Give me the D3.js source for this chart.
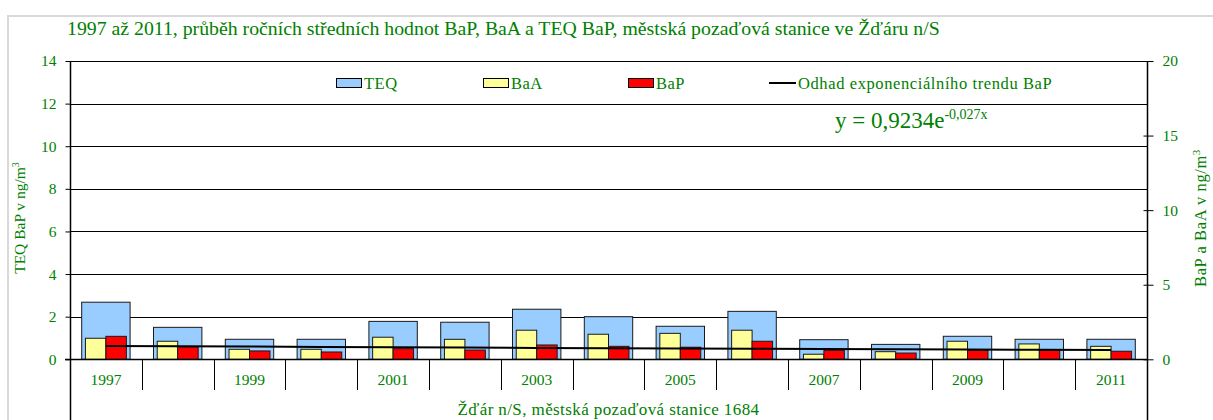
<!DOCTYPE html>
<html>
<head>
<meta charset="utf-8">
<script src="https://cdn.jsdelivr.net/npm/d3@7/dist/d3.min.js"></script>
<style>
  html, body { margin: 0; padding: 0; background: #fff; }
  svg { display: block; }
  text { font-family: "Liberation Serif", "DejaVu Serif", serif; fill: #008000; }
</style>
</head>
<body>
<svg id="chart" width="1213" height="420"></svg>
<script>
// Years on the category axis (labels shown every other year)
const years = [1997, 1998, 1999, 2000, 2001, 2002, 2003, 2004, 2005, 2006, 2007, 2008, 2009, 2010, 2011];
// Annual means, ng/m3
const teq = [2.68, 1.50, 0.94, 0.94, 1.78, 1.74, 2.35, 2.00, 1.55, 2.25, 0.92, 0.70, 1.08, 0.94, 0.94];
const baa = [1.41, 1.21, 0.67, 0.67, 1.48, 1.34, 1.95, 1.68, 1.74, 1.95, 0.34, 0.51, 1.21, 1.03, 0.87];
const bap = [1.54, 0.83, 0.56, 0.49, 0.71, 0.62, 0.96, 0.87, 0.81, 1.21, 0.60, 0.42, 0.60, 0.60, 0.54];
// Exponential trend of BaP, one value per year
const trend = [0.899, 0.875, 0.852, 0.829, 0.807, 0.786, 0.765, 0.745, 0.725, 0.706, 0.687, 0.669, 0.651, 0.634, 0.617];
const leftTicks = [0, 2, 4, 6, 8, 10, 12, 14];
const rightTicks = [0, 5, 10, 15, 20];

const svg = d3.select("#chart");
const m = { left: 70, right: 1147, top: 61, bottom: 359.3 };

const x = d3.scaleBand().domain(years).range([m.left, m.right]).paddingInner(0).paddingOuter(0);
const yL = d3.scaleLinear().domain([0, 14]).range([m.bottom, m.top]);
const yR = d3.scaleLinear().domain([0, 20]).range([m.bottom, m.top]);
const bw = x.bandwidth();

// Outer chart frame (top and left edges)
svg.append("path")
  .attr("d", `M8,1213 L8,16 L1213,16`)
  .attr("fill", "none").attr("stroke", "#d9d9d9").attr("stroke-width", 2);

// Title
svg.append("text")
  .attr("x", 67).attr("y", 35)
  .attr("font-size", 19.8)
  .text("1997 až 2011, průběh ročních středních hodnot BaP, BaA a TEQ BaP, městská pozaďová stanice ve Žďáru n/S");

// Horizontal gridlines
svg.append("g").selectAll("line").data(leftTicks.filter(d => d > 0)).join("line")
  .attr("x1", m.left).attr("x2", m.right)
  .attr("y1", d => Math.round(yL(d)) + 0.5).attr("y2", d => Math.round(yL(d)) + 0.5)
  .attr("stroke", "#000").attr("stroke-width", 1);

// TEQ bars (left axis)
svg.append("g").selectAll("rect").data(years).join("rect")
  .attr("x", d => x(d) + bw * 0.163)
  .attr("width", bw * 0.674)
  .attr("y", (d, i) => yL(teq[i]))
  .attr("height", (d, i) => m.bottom - yL(teq[i]))
  .attr("fill", "#99ccff").attr("stroke", "#1a1a1a").attr("stroke-width", 1);

// BaA and BaP bars (right axis)
const half = bw * 0.285;
svg.append("g").selectAll("rect").data(years).join("rect")
  .attr("x", d => x(d) + bw / 2 - half)
  .attr("width", half)
  .attr("y", (d, i) => yR(baa[i]))
  .attr("height", (d, i) => m.bottom - yR(baa[i]))
  .attr("fill", "#ffff99").attr("stroke", "#1a1a1a").attr("stroke-width", 1);
svg.append("g").selectAll("rect").data(years).join("rect")
  .attr("x", d => x(d) + bw / 2)
  .attr("width", half)
  .attr("y", (d, i) => yR(bap[i]))
  .attr("height", (d, i) => m.bottom - yR(bap[i]))
  .attr("fill", "#ff0000").attr("stroke", "#1a1a1a").attr("stroke-width", 1);

// Trend line
svg.append("path")
  .datum(trend)
  .attr("d", d3.line().x((d, i) => x(years[i]) + bw / 2).y(d => yR(d)))
  .attr("fill", "none").attr("stroke", "#000").attr("stroke-width", 2);

// Left axis
const gL = svg.append("g").attr("transform", `translate(${m.left + 0.5},0)`)
  .call(d3.axisLeft(yL).tickValues(leftTicks).tickSize(5).tickPadding(9).tickFormat(d3.format("d")));
gL.select(".domain").remove();
gL.selectAll(".tick line").attr("stroke", "#000");
gL.selectAll(".tick text").attr("font-size", 15.5).attr("font-family", "Liberation Serif").attr("fill", "#008000");
svg.append("line").attr("x1", m.left + 0.5).attr("x2", m.left + 0.5).attr("y1", m.top).attr("y2", 420)
  .attr("stroke", "#000").attr("stroke-width", 1.5);

// Right axis
const gR = svg.append("g").attr("transform", `translate(${m.right + 0.5},0)`)
  .call(d3.axisRight(yR).tickValues(rightTicks).tickSize(6).tickPadding(9).tickFormat(d3.format("d")));
gR.select(".domain").remove();
gR.selectAll(".tick line").attr("stroke", "#000").attr("x1", -4);
gR.selectAll(".tick text").attr("font-size", 15.5).attr("font-family", "Liberation Serif").attr("fill", "#008000");
svg.append("line").attr("x1", m.right + 0.5).attr("x2", m.right + 0.5).attr("y1", m.top).attr("y2", 420)
  .attr("stroke", "#000").attr("stroke-width", 1.5);

// Category axis: baseline, dividers, labels
svg.append("line").attr("x1", m.left - 5).attr("x2", m.right).attr("y1", Math.round(m.bottom) + 0.5).attr("y2", Math.round(m.bottom) + 0.5)
  .attr("stroke", "#000").attr("stroke-width", 1.5);
svg.append("g").selectAll("line").data(years.slice(1)).join("line")
  .attr("x1", d => Math.round(x(d)) + 0.5).attr("x2", d => Math.round(x(d)) + 0.5)
  .attr("y1", m.bottom).attr("y2", 390)
  .attr("stroke", "#000").attr("stroke-width", 1);
svg.append("g").selectAll("text").data(years.filter((d, i) => i % 2 === 0)).join("text")
  .attr("x", d => x(d) + bw / 2).attr("y", 385)
  .attr("text-anchor", "middle").attr("font-size", 15.5)
  .text(d => d);

// Axis titles
svg.append("text")
  .attr("x", (m.left + m.right) / 2).attr("y", 415)
  .attr("text-anchor", "middle").attr("font-size", 17).attr("letter-spacing", 0.4)
  .text("Žďár n/S, městská pozaďová stanice 1684");

const titleL = svg.append("text")
  .attr("transform", "translate(25,218) rotate(-90)")
  .attr("text-anchor", "middle").attr("font-size", 15.5);
titleL.append("tspan").text("TEQ BaP v ng/m");
titleL.append("tspan").attr("font-size", 10).attr("dy", -6).text("3");

const titleR = svg.append("text")
  .attr("transform", "translate(1206,218) rotate(-90)")
  .attr("text-anchor", "middle").attr("font-size", 16.5).attr("letter-spacing", 0.6);
titleR.append("tspan").text("BaP a BaA v ng/m");
titleR.append("tspan").attr("font-size", 11).attr("dy", -6).text("3");

// Legend
const legendItems = [
  { name: "TEQ", fill: "#99ccff", x: 336 },
  { name: "BaA", fill: "#ffff99", x: 483 },
  { name: "BaP", fill: "#ff0000", x: 628 }
];
const lg = svg.append("g");
legendItems.forEach(it => {
  lg.append("rect").attr("x", it.x + 0.5).attr("y", 78.5).attr("width", 25).attr("height", 9)
    .attr("fill", it.fill).attr("stroke", "#000").attr("stroke-width", 1);
  lg.append("text").attr("x", it.x + 28).attr("y", 88.5).attr("font-size", 16.5).attr("letter-spacing", 0.5).text(it.name);
});
lg.append("line").attr("x1", 769).attr("x2", 796).attr("y1", 83).attr("y2", 83)
  .attr("stroke", "#000").attr("stroke-width", 2);
lg.append("text").attr("x", 798).attr("y", 88.5).attr("font-size", 16.5).attr("letter-spacing", 0.6)
  .text("Odhad exponenciálního trendu BaP");

// Trend equation
const eq = svg.append("text").attr("x", 835).attr("y", 128).attr("font-size", 23);
eq.append("tspan").text("y = 0,9234e");
eq.append("tspan").attr("font-size", 14).attr("dy", -9).text("-0,027x");
</script>
</body>
</html>
